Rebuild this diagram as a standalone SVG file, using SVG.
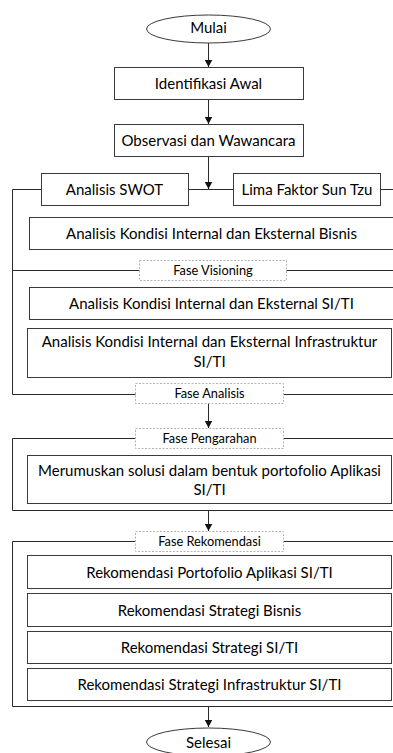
<svg xmlns="http://www.w3.org/2000/svg" width="393" height="753" viewBox="0 0 393 753">
  <style>
    .box { fill: #ffffff; stroke: #3a3a3a; stroke-width: 1; }
    .phase { fill: #ffffff; stroke: #b4b4b4; stroke-width: 1; stroke-dasharray: 2 1.5; }
    .frame { fill: none; stroke: #2a2a2a; stroke-width: 1; }
    .flow { fill: none; stroke: #2a2a2a; stroke-width: 1; marker-end: url(#arrow); }
    .t { font-family: Lato, "Open Sans", "Liberation Sans", sans-serif; font-size: 15px; fill: #000000; text-anchor: middle; }
    .s { font-family: Lato, "Open Sans", "Liberation Sans", sans-serif; font-size: 12.8px; fill: #000000; text-anchor: middle; }
  </style>
  <defs>
    <marker id="arrow" markerUnits="userSpaceOnUse" markerWidth="8" markerHeight="9" refX="7.5" refY="4" orient="auto">
      <path d="M0,0 L7.5,4 L0,8 z" fill="#111111"/>
    </marker>
  </defs>
  <rect width="393" height="753" fill="#ffffff"/>

  <!-- phase brackets and flow arrows -->
  <g id="connectors">
    <path class="frame" d="M400,189.5 H12.5 V394.5 H400"/>
    <path class="frame" d="M12.5,270.5 H400"/>
    <path class="frame" d="M400,438.5 H12.5 V510.5 H400"/>
    <path class="frame" d="M400,541.5 H12.5 V706.5 H400"/>
    <path class="flow" d="M208.5,43 V67"/>
    <path class="flow" d="M208.5,100 V124"/>
    <path class="flow" d="M208.5,157 V189"/>
    <path class="flow" d="M208.5,404 V428"/>
    <path class="flow" d="M208.5,511 V531"/>
    <path class="flow" d="M208.5,707 V727"/>
  </g>

  <g id="mulai">
    <ellipse cx="208.5" cy="29" rx="62" ry="14" class="box"/>
    <text x="208.5" y="33" class="t">Mulai</text>
  </g>
  <g id="identifikasi-awal">
    <rect x="114.5" y="67.5" width="189" height="32" class="box"/>
    <text x="208.5" y="89" class="t">Identifikasi Awal</text>
  </g>
  <g id="observasi">
    <rect x="114.5" y="124.5" width="189" height="32" class="box"/>
    <text x="208.5" y="146" class="t">Observasi dan Wawancara</text>
  </g>
  <g id="analisis-swot">
    <rect x="41.5" y="173.5" width="147" height="32" class="box"/>
    <text x="114.5" y="195" class="t">Analisis SWOT</text>
  </g>
  <g id="lima-faktor">
    <rect x="233.5" y="173.5" width="147" height="32" class="box"/>
    <text x="307" y="195" class="t">Lima Faktor Sun Tzu</text>
  </g>
  <g id="kondisi-bisnis">
    <rect x="29.5" y="217.5" width="370" height="32" class="box"/>
    <text x="211.5" y="239" class="t">Analisis Kondisi Internal dan Eksternal Bisnis</text>
  </g>
  <g id="fase-visioning">
    <rect x="139.5" y="260.5" width="147" height="20" class="phase"/>
    <text x="213" y="274.5" class="s">Fase Visioning</text>
  </g>
  <g id="kondisi-siti">
    <rect x="29.5" y="287.5" width="370" height="32" class="box"/>
    <text x="211.5" y="309" class="t">Analisis Kondisi Internal dan Eksternal SI/TI</text>
  </g>
  <g id="kondisi-infrastruktur">
    <rect x="27.5" y="328.5" width="364" height="49" class="box"/>
    <text x="209.5" y="347" class="t">Analisis Kondisi Internal dan Eksternal Infrastruktur</text>
    <text x="209.5" y="367" class="t">SI/TI</text>
  </g>
  <g id="fase-analisis">
    <rect x="135.5" y="383.5" width="148" height="20" class="phase"/>
    <text x="209.5" y="397.5" class="s">Fase Analisis</text>
  </g>
  <g id="fase-pengarahan">
    <rect x="135.5" y="428.5" width="148" height="20" class="phase"/>
    <text x="209.5" y="442.5" class="s">Fase Pengarahan</text>
  </g>
  <g id="merumuskan-solusi">
    <rect x="27.5" y="455.5" width="364" height="48" class="box"/>
    <text x="209.5" y="476" class="t">Merumuskan solusi dalam bentuk portofolio Aplikasi</text>
    <text x="209.5" y="495" class="t">SI/TI</text>
  </g>
  <g id="fase-rekomendasi">
    <rect x="135.5" y="531.5" width="148" height="20" class="phase"/>
    <text x="209.5" y="545.5" class="s">Fase Rekomendasi</text>
  </g>
  <g id="rek-portofolio">
    <rect x="27.5" y="555.5" width="364" height="33" class="box"/>
    <text x="209.5" y="577.5" class="t">Rekomendasi Portofolio Aplikasi SI/TI</text>
  </g>
  <g id="rek-strategi-bisnis">
    <rect x="27.5" y="593.5" width="364" height="33" class="box"/>
    <text x="209.5" y="615.5" class="t">Rekomendasi Strategi Bisnis</text>
  </g>
  <g id="rek-strategi-siti">
    <rect x="27.5" y="631.5" width="364" height="32" class="box"/>
    <text x="209.5" y="653" class="t">Rekomendasi Strategi SI/TI</text>
  </g>
  <g id="rek-strategi-infrastruktur">
    <rect x="27.5" y="668.5" width="364" height="32" class="box"/>
    <text x="209.5" y="690" class="t">Rekomendasi Strategi Infrastruktur SI/TI</text>
  </g>
  <g id="selesai">
    <ellipse cx="208.5" cy="742" rx="62" ry="14" class="box"/>
    <text x="208.5" y="748" class="t">Selesai</text>
  </g>
</svg>
